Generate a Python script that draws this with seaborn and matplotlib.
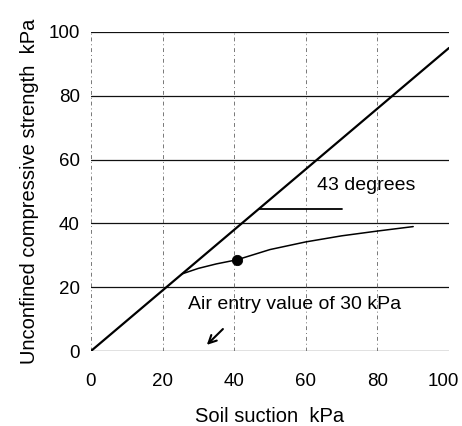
import pandas as pd
import matplotlib.pyplot as plt
import matplotlib.transforms as mtransforms
import seaborn as sns

# Values
line_x = [0, 100]
line_y = [0, 95]

curve_x = [25.5, 30, 35, 40.8, 50, 60, 70, 80, 90]
curve_y = [24.2, 25.9, 27.3, 28.6, 31.8, 34.2, 36.1, 37.6, 39.0]

point_x = [40.8]
point_y = [28.6]

ticks = [0, 20, 40, 60, 80, 100]

sns.set_style('white')
plt.rcParams['font.family'] = ['Liberation Sans', 'DejaVu Sans']
plt.rcParams['text.color'] = 'black'
plt.rcParams['axes.labelcolor'] = 'black'
plt.rcParams['xtick.color'] = 'black'
plt.rcParams['ytick.color'] = 'black'

fig = plt.figure(figsize=(4.62, 4.26), dpi=100)
ax = fig.add_axes([91 / 462, 1 - 351 / 426, 358 / 462, 319 / 426])

# grid: solid horizontals, dashed verticals
for t in ticks:
    ax.axhline(t, color='#111111', lw=0.9, zorder=1)
    ax.axvline(t, color='#777777', lw=0.7, ls=(0, (4, 3, 1, 3)), zorder=1)

df_line = pd.DataFrame({'suction': line_x, 'strength': line_y})
df_curve = pd.DataFrame({'suction': curve_x, 'strength': curve_y})
df_point = pd.DataFrame({'suction': point_x, 'strength': point_y})

sns.lineplot(data=df_line, x='suction', y='strength', color='black', lw=1.6, ax=ax, zorder=3)
sns.lineplot(data=df_curve, x='suction', y='strength', color='black', lw=1.1, ax=ax, zorder=3)
sns.scatterplot(data=df_point, x='suction', y='strength', color='black', s=55, marker='o',
                edgecolor='black', ax=ax, zorder=4)

# angle marker and annotations
ax.plot([47, 70], [44.5, 44.5], color='black', lw=1.3, zorder=3)
ax.text(63, 52, '43 degrees', fontsize=14, va='center', ha='left')
ax.text(27, 14.5, 'Air entry value of 30 kPa', fontsize=14, va='center', ha='left')
ax.annotate('', xy=(31.8, 1.3), xytext=(37.4, 7.5),
            arrowprops=dict(arrowstyle='->', color='black', lw=1.5, mutation_scale=14))

ax.set_xlim(0, 100)
ax.set_ylim(0, 100)
ax.set_xticks(ticks)
ax.set_yticks(ticks)
ax.tick_params(axis='x', length=0, pad=16, labelsize=13.5)
ax.tick_params(axis='y', length=0, pad=8, labelsize=13.5)
ax.set_xlabel('Soil suction  kPa', fontsize=14.5, labelpad=12)
ax.set_ylabel('Unconfined compressive strength  kPa', fontsize=14.5, labelpad=7)
sns.despine(ax=ax, left=True, bottom=True)

# nudge the last x tick label so it stays inside the figure
last = ax.get_xticklabels()[-1]
last.set_transform(last.get_transform() + mtransforms.ScaledTranslation(-4 / 72, 0, fig.dpi_scale_trans))

fig.savefig('out.png', dpi=100)
